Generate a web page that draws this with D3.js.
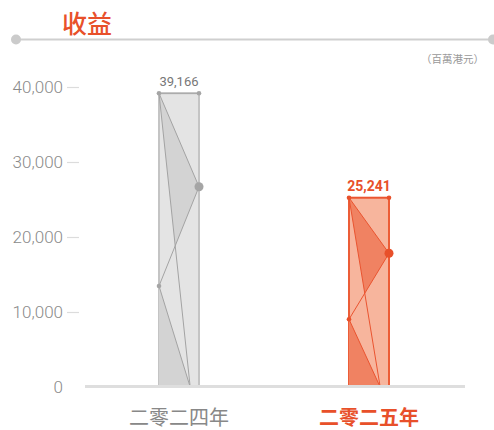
<!DOCTYPE html>
<html><head><meta charset="utf-8">
<script src="https://cdn.jsdelivr.net/npm/d3@7"></script>
<style>
html,body{margin:0;padding:0;background:#fff;}
svg{display:block;font-family:Roboto,"Noto Sans CJK TC","Noto Sans",sans-serif;}
</style></head>
<body>
<svg id="chart" width="494" height="430"></svg>
<script>
// ---- data ----
const years = ["二零二四年", "二零二五年"];
const revenue = [39166, 25241];
const upperMark = [26700, 17830];   // marker on right edge
const lowerMark = [13470, 9030];    // marker on left edge
const yTicks = [0, 10000, 20000, 30000, 40000];
const title = "收益";
const unit = "（百萬港元）";

// ---- styles ----
const themes = [
  {light:"#e4e4e4", dark:"#d3d3d3", edge:"#c4c4c4", line:"#a3a3a3", dot:"#a5a5a5", label:"#777", weight:400, size:13, axis:"#888", axisWeight:400},
  {light:"#f7b59d", dark:"#f08262", edge:"#ec5d37", line:"#ea5430", dot:"#e8502a", label:"#e8502a", weight:700, size:14, axis:"#e8502a", axisWeight:700}
];
const barW = 40, bottomFrac = 0.78;

const svg = d3.select("#chart");
const x = d3.scalePoint().domain(years).range([84, 464]).padding(0.5);
const y = d3.scaleLinear().domain([0, 40000]).range([387, 87]);

// header
svg.append("line").attr("x1",16).attr("x2",494).attr("y1",39.5).attr("y2",39.5)
  .attr("stroke","#cfcfcf").attr("stroke-width",2);
svg.append("circle").attr("cx",16).attr("cy",39.5).attr("r",5).attr("fill","#cbcbcb");
svg.append("circle").attr("cx",493).attr("cy",39.5).attr("r",5).attr("fill","#cbcbcb");
svg.append("text").attr("x",62).attr("y",22).attr("dominant-baseline","central")
  .attr("font-family","'Noto Sans CJK TC'").attr("font-size",25).attr("fill","#e8502a")
  .attr("font-weight",500).text(title);
svg.append("text").attr("x",484).attr("y",58).attr("dominant-baseline","central")
  .attr("text-anchor","end").attr("font-family","'Noto Sans CJK TC'")
  .attr("font-size",10.5).attr("fill","#999").text(unit);

// y axis
const yAxis = svg.append("g").attr("transform","translate(79,0)")
  .call(d3.axisLeft(y).tickValues(yTicks).tickSize(12).tickPadding(4).tickFormat(d3.format(",")));
yAxis.select(".domain").remove();
yAxis.selectAll(".tick line").attr("stroke","#dcdcdc").attr("stroke-width",1.2);
yAxis.selectAll(".tick").filter(d => d === 0).select("line").remove();
yAxis.selectAll(".tick text").attr("font-size",17).attr("fill","#8a8a8a")
  .attr("font-family","Roboto").attr("font-weight",300);

// bars
function intersect(p1,p2,p3,p4){
  const d=(p1[0]-p2[0])*(p3[1]-p4[1])-(p1[1]-p2[1])*(p3[0]-p4[0]);
  const a=p1[0]*p2[1]-p1[1]*p2[0], b=p3[0]*p4[1]-p3[1]*p4[0];
  return [(a*(p3[0]-p4[0])-(p1[0]-p2[0])*b)/d,(a*(p3[1]-p4[1])-(p1[1]-p2[1])*b)/d];
}
years.forEach((yr,i)=>{
  const t = themes[i];
  const cx = x(yr), xl = cx-barW/2, xr = cx+barW/2;
  const yTop = y(revenue[i]), y0 = y(0);
  const g = svg.append("g");
  const TL=[xl,yTop], TR=[xr,yTop], RD=[xr,y(upperMark[i])], LD=[xl,y(lowerMark[i])];
  const BT=[xl+barW*bottomFrac,y0], BL=[xl,y0];
  const X = intersect(RD,LD,TL,BT);
  g.append("rect").attr("x",xl).attr("y",yTop).attr("width",barW).attr("height",y0-yTop)
    .attr("fill",t.light).attr("stroke",t.edge).attr("stroke-width",2);
  const poly = pts => "M"+pts.map(p=>p.join(",")).join("L")+"Z";
  g.append("path").attr("d",poly([TL,RD,X])).attr("fill",t.dark);
  g.append("path").attr("d",poly([LD,BT,BL])).attr("fill",t.dark);
  const lines = [[TL,TR],[TL,RD],[RD,LD],[LD,BT],[TL,BT]];
  lines.forEach(([a,b])=>g.append("line").attr("x1",a[0]).attr("y1",a[1]).attr("x2",b[0]).attr("y2",b[1])
    .attr("stroke",t.line).attr("stroke-width",1));
  [[TL,2.3],[TR,2.3],[LD,2.3],[RD,4.5]].forEach(([p,r])=>g.append("circle")
    .attr("cx",p[0]).attr("cy",p[1]).attr("r",r).attr("fill",t.dot));
  g.append("text").attr("x",cx).attr("y",yTop-12).attr("text-anchor","middle")
    .attr("dominant-baseline","central").attr("font-size",t.size).attr("font-weight",t.weight)
    .attr("fill",t.label).text(d3.format(",")(revenue[i]));
  svg.append("text").attr("x",cx).attr("y",416).attr("text-anchor","middle")
    .attr("dominant-baseline","central").attr("font-family","'Noto Sans CJK TC'")
    .attr("font-size",20).attr("font-weight",t.axisWeight).attr("fill",t.axis).text(yr);
});

// baseline
svg.append("line").attr("x1",85).attr("x2",465).attr("y1",386.5).attr("y2",386.5)
  .attr("stroke","#dedede").attr("stroke-width",3);
</script>
</body></html>
